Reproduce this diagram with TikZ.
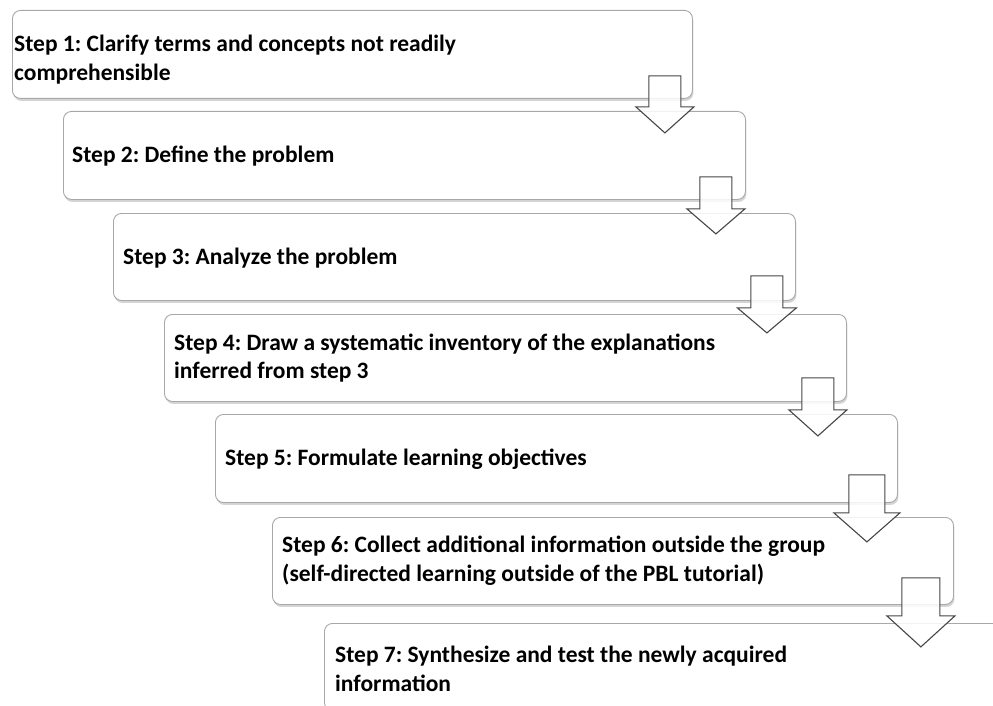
\documentclass[tikz,border=0pt]{standalone}
\usepackage{fontspec}
\setmainfont{Carlito}
\usetikzlibrary{calc,shadows}
\definecolor{boxline}{RGB}{168,168,168}
\definecolor{arrline}{RGB}{70,70,70}
\tikzset{
  stepfont/.style={font=\fontsize{23.5}{28.5}\selectfont\bfseries\frenchspacing},
  steptext/.style={stepfont, anchor=west, align=left, inner sep=0pt},
  stepbox/.style={draw=boxline, line width=0.9pt, fill=white, rounded corners=8pt,
    anchor=north west, minimum width=680pt, minimum height=87pt, inner sep=0pt,
    drop shadow={shadow xshift=1pt, shadow yshift=-2.5pt, opacity=0.3, fill=black!55}},
  blockarrow/.style={draw=arrline, line width=1.1pt, fill=white, fill opacity=0.85, line join=miter}
}
% #1 node, #2 centre offset left of east, #3 shaft top above south, #4 shaft half width,
% #5 head base below south, #6 head half width, #7 tip below south
\newcommand\stepArrow[7]{%
  \coordinate (c) at ($(#1.south east)+(-#2,0)$);
  \draw[blockarrow]
    ($(c)+(-#4,-#3)$) -- ($(c)+(#4,-#3)$) -- ($(c)+(#4,#5)$) -- ($(c)+(#6,#5)$)
    -- ($(c)+(0,#7)$) -- ($(c)+(-#6,#5)$) -- ($(c)+(-#4,#5)$) -- cycle;}
\begin{document}
\begin{tikzpicture}[x=1pt,y=-1pt]
\useasboundingbox (0,0) rectangle (993,706);
\clip (0,0) rectangle (993,706);
\fill[white] (0,0) rectangle (993,706);
\node[stepbox, minimum height=88pt] (b1) at (12,10) {};
\node[steptext] (b1t) at ($(b1.west)+(2,5)$)
  {Step 1: Clarify terms and concepts not readily\\comprehensible};
\node[stepbox, minimum width=682pt, minimum height=88pt] (b2) at (63,111) {};
\node[steptext] (b2t) at ($(b2.west)+(9,1)$) {Step 2: Define the problem};
\node[stepbox, minimum width=682pt] (b3) at (113,213) {};
\node[steptext] (b3t) at ($(b3.west)+(10,1)$) {Step 3: Analyze the problem};
\node[stepbox, minimum width=682pt] (b4) at (164,314) {};
\node[steptext] (b4t) at ($(b4.west)+(10,0)$)
  {Step 4: Draw a systematic inventory of the explanations\\inferred from step 3};
\node[stepbox, minimum width=682pt, minimum height=88pt] (b5) at (215,414) {};
\node[steptext] (b5t) at ($(b5.west)+(10,1)$) {Step 5: Formulate learning objectives};
\node[stepbox, minimum width=681pt] (b6) at (272,517) {};
\node[steptext] (b6t) at ($(b6.west)+(10,0)$)
  {Step 6: Collect additional information outside the group\\(self-directed learning outside of the PBL tutorial)};
\node[stepbox, minimum width=680pt] (b7) at (324,623) {};
\node[steptext] (b7t) at ($(b7.west)+(11,2)$)
  {Step 7: Synthesize and test the newly acquired\\information};
\stepArrow{b1}{28}{23}{16}{8}{29}{34}
\stepArrow{b2}{30}{23}{16}{9}{29}{34}
\stepArrow{b3}{29}{25}{16}{7}{29.5}{32}
\stepArrow{b4}{29}{24}{16}{8}{29}{34}
\stepArrow{b5}{31}{28}{18}{10}{33}{39}
\stepArrow{b6}{33}{27}{19}{11}{34}{42}
\end{tikzpicture}
\end{document}
